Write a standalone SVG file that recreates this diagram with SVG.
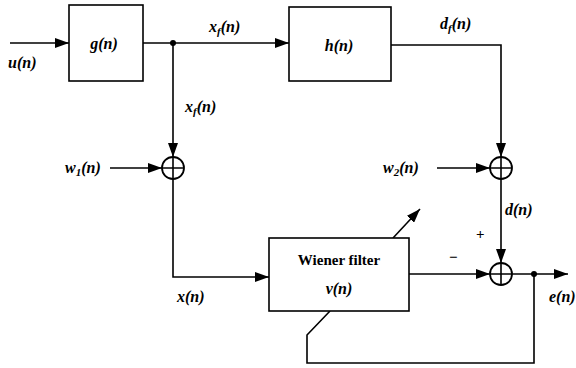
<svg xmlns="http://www.w3.org/2000/svg" width="576" height="368" viewBox="0 0 576 368" font-family="'Liberation Serif', 'DejaVu Serif', serif">
<defs>
<marker id="arr" markerWidth="14" markerHeight="10" refX="14" refY="5" orient="auto" markerUnits="userSpaceOnUse">
<path d="M0,0 L14,5 L0,10 z" fill="#000"/>
</marker>
<style>
.ln{fill:none;stroke:#000;stroke-width:1.6}
.box{fill:#fff;stroke:#000;stroke-width:1.6}
.sum{fill:#fff;stroke:#000;stroke-width:1.8}
.lb{font-style:italic;font-weight:bold;font-size:16px;fill:#000}
.tx{font-weight:bold;font-size:15px;fill:#000}
.sub{font-size:11px}
</style>
</defs>
<rect width="576" height="368" fill="#fff"/>
<g id="connectors">
<line class="ln" x1="10" y1="43" x2="69" y2="43" marker-end="url(#arr)"/>
<line class="ln" x1="143" y1="43" x2="289" y2="43" marker-end="url(#arr)"/>
<circle cx="173" cy="43" r="3" fill="#000"/>
<line class="ln" x1="173" y1="43" x2="173" y2="157" marker-end="url(#arr)"/>
<polyline class="ln" points="391,45 501,45 501,157" marker-end="url(#arr)"/>
<line class="ln" x1="110" y1="168" x2="162" y2="168" marker-end="url(#arr)"/>
<line class="ln" x1="437" y1="168" x2="490" y2="168" marker-end="url(#arr)"/>
<line class="ln" x1="501" y1="179" x2="501" y2="263" marker-end="url(#arr)"/>
<polyline class="ln" points="173,179 173,277 269,277" marker-end="url(#arr)"/>
<line class="ln" x1="409" y1="274" x2="490" y2="274" marker-end="url(#arr)"/>
<line class="ln" x1="512" y1="274" x2="568" y2="274" marker-end="url(#arr)"/>
<circle cx="534" cy="274" r="3" fill="#000"/>
<polyline class="ln" points="534,274 534,363 307,363 307,335 330,311"/>
<line class="ln" x1="393" y1="238" x2="420" y2="209" marker-end="url(#arr)"/>
</g>
<g id="g">
<rect class="box" x="69" y="5" width="74" height="76"/>
<text class="lb" x="104" y="49" text-anchor="middle">g(n)</text>
</g>
<g id="h">
<rect class="box" x="289" y="7" width="102" height="74"/>
<text class="lb" x="339" y="51" text-anchor="middle">h(n)</text>
</g>
<g id="wiener">
<rect class="box" x="269" y="238" width="140" height="73"/>
<text class="tx" x="339" y="265" text-anchor="middle">Wiener filter</text>
<text class="lb" x="339" y="294" text-anchor="middle">v(n)</text>
</g>
<g id="sum1">
<circle class="sum" cx="173" cy="168" r="11"/>
<path class="ln" d="M162,168 H184 M173,157 V179"/>
</g>
<g id="sum2">
<circle class="sum" cx="501" cy="168" r="11"/>
<path class="ln" d="M490,168 H512 M501,157 V179"/>
</g>
<g id="sum3">
<circle class="sum" cx="501" cy="274" r="11"/>
<path class="ln" d="M490,274 H512 M501,263 V285"/>
</g>
<g id="labels">
<text class="lb" x="8" y="68">u(n)</text>
<text class="lb" x="209" y="32">x<tspan class="sub" dy="3">f</tspan><tspan dy="-3">(n)</tspan></text>
<text class="lb" x="185" y="112">x<tspan class="sub" dy="3">f</tspan><tspan dy="-3">(n)</tspan></text>
<text class="lb" x="440" y="29">d<tspan class="sub" dy="3">f</tspan><tspan dy="-3">(n)</tspan></text>
<text class="lb" x="65" y="173">w<tspan class="sub" dy="3">1</tspan><tspan dy="-3">(n)</tspan></text>
<text class="lb" x="383" y="173">w<tspan class="sub" dy="3">2</tspan><tspan dy="-3">(n)</tspan></text>
<text class="lb" x="505" y="215">d(n)</text>
<text class="tx" x="476" y="239">+</text>
<text class="tx" x="449" y="262">−</text>
<text class="lb" x="177" y="302">x(n)</text>
<text class="lb" x="549" y="302">e(n)</text>
</g>
</svg>
